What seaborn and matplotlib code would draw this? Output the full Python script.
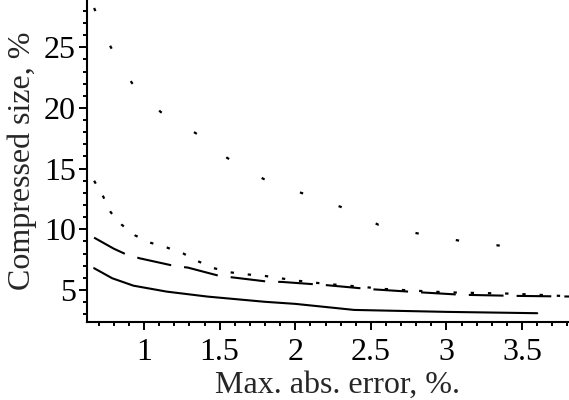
import matplotlib
matplotlib.use("Agg")
import matplotlib.pyplot as plt
from matplotlib.ticker import MultipleLocator
import seaborn as sns

# curves (x: max abs error, %, y: compressed size, %)
x_solid = [0.67, 0.79, 0.93, 1.15, 1.42, 1.8, 2.0, 2.39, 3.0, 3.6]
y_solid = [6.79, 5.96, 5.35, 4.86, 4.45, 4.02, 3.85, 3.35, 3.19, 3.08]

x_dash = [0.67, 0.8, 0.88, 0.97, 1.2, 1.29, 1.5, 1.6, 1.82, 1.91, 2.2, 2.5, 2.8, 3.1, 3.45, 3.85]
y_dash = [9.31, 8.4, 7.94, 7.61, 6.98, 6.84, 6.15, 6.01, 5.68, 5.66, 5.4, 5.06, 4.82, 4.6, 4.51, 4.45]

x_dot_low = [0.67, 0.73, 0.78, 0.85, 0.94, 1.04, 1.15, 1.26, 1.35, 1.46, 1.57, 1.68, 1.8,
             2.0, 2.2, 2.4, 2.6, 2.8, 3.0, 3.2, 3.4, 3.6, 3.85]
y_dot_low = [14.0, 12.7, 11.4, 10.4, 9.5, 8.9, 8.5, 8.0, 7.4, 6.8, 6.45, 6.28, 6.15,
             5.78, 5.5, 5.3, 5.07, 4.93, 4.8, 4.75, 4.7, 4.6, 4.45]

x_dot_top = [0.67, 0.78, 0.92, 1.11, 1.35, 1.55, 1.79, 2.04, 2.30, 2.55, 2.82, 3.09, 3.36, 3.4]
y_dot_top = [28.24, 25.02, 22.06, 19.67, 17.86, 15.88, 14.15, 13.0, 11.85, 10.37, 9.63, 9.05, 8.64, 8.6]

x_ticks = [1, 1.5, 2, 2.5, 3, 3.5]
x_ticklabels = ["1", "1.5", "2", "2.5", "3", "3.5"]
y_ticks = [5, 10, 15, 20, 25]

sns.set_style("ticks")
plt.rcParams["font.family"] = ["Liberation Serif", "DejaVu Serif"]
plt.rcParams["lines.scale_dashes"] = False

fig = plt.figure(figsize=(5.69, 4.0), dpi=100)
ax = fig.add_axes([87 / 569, (400 - 321.7) / 400, 1 - 87 / 569, 321.7 / 400])

sns.lineplot(x=x_solid, y=y_solid, color="black", linewidth=1.5, sort=False, ax=ax)
sns.lineplot(x=x_dash, y=y_dash, color="black", linewidth=1.5, sort=False, ax=ax)
ax.lines[-1].set_dashes((25, 9.4))
sns.lineplot(x=x_dot_low, y=y_dot_low, color="black", linewidth=1.6, sort=False, ax=ax)
ax.lines[-1].set_dashes((2.4, 10.0))
sns.lineplot(x=x_dot_top, y=y_dot_top, color="black", linewidth=1.6, sort=False, ax=ax)
ax.lines[-1].set_dashes((2.4, 27.1))

ax.set_xlim(0.623, 3.81)
ax.set_ylim(2.38, 28.9)

ax.set_xticks(x_ticks)
ax.set_xticklabels(x_ticklabels)
ax.set_yticks(y_ticks)
ax.xaxis.set_minor_locator(MultipleLocator(0.1))
ax.yaxis.set_minor_locator(MultipleLocator(1))
ax.tick_params(which="major", direction="out", length=5.5, width=1.4, labelsize=23,
               colors="black")
ax.tick_params(which="minor", direction="out", length=3.2, width=1.4, colors="black")
ax.tick_params(axis="x", which="major", pad=6)
ax.tick_params(axis="y", which="major", pad=2.5)

sns.despine(ax=ax)
for side in ["left", "bottom"]:
    ax.spines[side].set_linewidth(1.5)
    ax.spines[side].set_color("black")

ax.set_xlabel("Max. abs. error, %.", fontsize=23)
ax.set_ylabel("Compressed size, %", fontsize=23)
ax.xaxis.set_label_coords(0.52, -0.153)
ax.yaxis.set_label_coords(-0.103, 0.5)

fig.savefig("out.png", dpi=100)
